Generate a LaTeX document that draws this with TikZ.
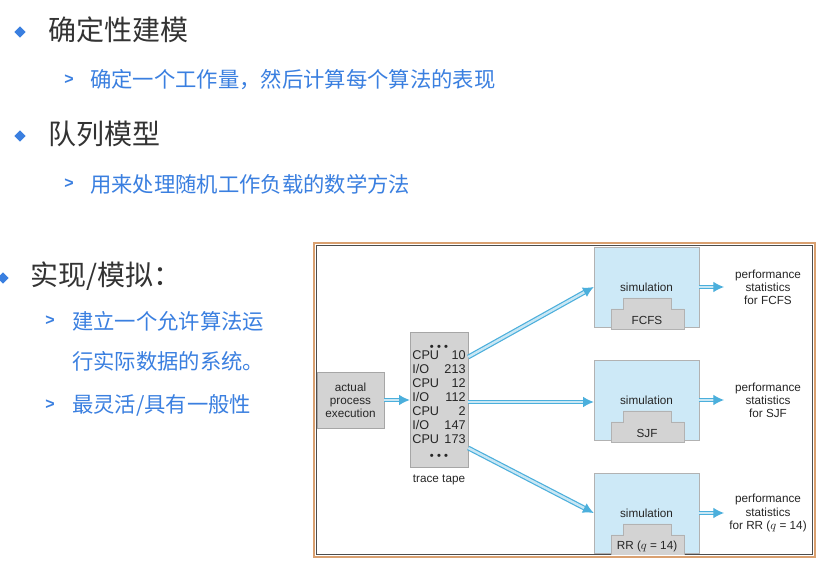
\documentclass[tikz,border=0pt]{standalone}
\usepackage{fontspec}
\setmainfont{Liberation Sans}
\newfontfamily\cjk{Noto Sans CJK SC}
\usetikzlibrary{arrows.meta,positioning}
\definecolor{slideblue}{HTML}{3A7FE0}
\definecolor{headgray}{HTML}{333333}
\definecolor{simblue}{HTML}{CDE9F7}
\definecolor{boxgray}{HTML}{D3D3D3}
\definecolor{arrowblue}{HTML}{4BAFDC}
\definecolor{framebrown}{HTML}{D9A070}
\tikzset{
  head/.style={anchor=west,text=headgray,font=\cjk\fontsize{21}{24}\selectfont,inner sep=0},
  sub/.style={anchor=west,text=slideblue,font=\cjk\fontsize{16}{19}\selectfont,inner sep=0},
  dia/.style={fill=slideblue,draw=none,minimum size=6pt,inner sep=0,rotate=45},
  tri/.style={anchor=west,text=slideblue,font=\bfseries\fontsize{12}{12}\selectfont,inner sep=0},
  graybox/.style={draw=gray!70,fill=boxgray,inner sep=0},
  simbox/.style={draw=gray!60,fill=simblue,minimum width=78.75pt,minimum height=60pt,inner sep=0},
  flow/.style={draw=arrowblue,double=arrowblue!30,double distance=1.8pt,line width=0.9pt,-{Latex[length=8pt,width=8pt]}},
  small/.style={font=\fontsize{8.8}{9.8}\selectfont,text=gray!30!black,align=center,inner sep=0}
}
\begin{document}
\begin{tikzpicture}[x=0.75pt,y=-0.75pt]
  \useasboundingbox (0,0) rectangle (819,566);
  \fill[white] (0,0) rectangle (819,566);

  % slide text
  \node[dia] (d1) at (20,32) {};
  \node[head] (h1) at (48,30) {确定性建模};
  \node[tri] (t1) at (64,80) {>};
  \node[sub] (s1) at (90,80) {确定一个工作量，然后计算每个算法的表现};
  \node[dia] (d2) at (20,136) {};
  \node[head] (h2) at (48,134) {队列模型};
  \node[tri] (t2) at (64,184) {>};
  \node[sub] (s2) at (90,184) {用来处理随机工作负载的数学方法};
  \node[dia] (d3) at (3,278) {};
  \node[head] (h3) at (30,276) {实现/模拟：};
  \node[tri] (t3) at (45,321) {>};
  \node[sub] (s3) at (72,321) {建立一个允许算法运};
  \node[sub] (s4) at (72,361) {行实际数据的系统。};
  \node[tri] (t4) at (45,405) {>};
  \node[sub] (s5) at (72,405) {最灵活/具有一般性};

  % frame
  \draw[framebrown,line width=2.2pt] (314,243) rectangle (815,557);
  \draw[gray!60!black,line width=0.4pt] (316.5,245.5) rectangle (812.5,554.5);

  % actual process and trace tape
  \node[graybox,small,minimum width=50pt,minimum height=42pt] (act) at (350.5,400) {actual\\process\\execution};
  \node[graybox,minimum width=43.5pt,minimum height=101pt] (tape) at (439,400) {};
  \node[small,font=\fontsize{9.5}{10.5}\selectfont] (tapetxt) at (tape.center) {%
    \begin{tabular}{@{}l@{\hspace{4pt}}r@{}}
    \multicolumn{2}{c}{\tiny$\bullet\bullet\bullet$}\\[-2pt]
    CPU & 10\\ I/O & 213\\ CPU & 12\\ I/O & 112\\ CPU & 2\\ I/O & 147\\ CPU & 173\\
    \multicolumn{2}{c}{\tiny$\bullet\bullet\bullet$}
    \end{tabular}};
  \node[small,below=5pt of tape] (tapelbl) {trace tape};

  % simulations
  \foreach \nm/\yy/\alg/\stat in {fcfs/287/FCFS/for FCFS,sjf/400/SJF/for SJF,rr/513/RR ($q$ = 14)/for RR ($q$ = 14)}{
    \begin{scope}
      \clip (316.5,245.5) rectangle (812.5,554.5);
      \node[simbox] (sim\nm) at (646.5,\yy) {};
      \fill[boxgray,draw=gray!60] (611,\yy+42) -- (611,\yy+22) -- (623,\yy+22) -- (623,\yy+11)
        -- (671,\yy+11) -- (671,\yy+22) -- (684,\yy+22) -- (684,\yy+42) -- cycle;
    \end{scope}
    \node[small] (lbl\nm) at (646.5,\yy) {simulation};
    \node[small] (alg\nm) at (647,\yy+33) {\alg};
    \node[small] (stat\nm) at (768,\yy) {performance\\statistics\\\stat};
    \draw[flow] (sim\nm.east |- lbl\nm) -- (724,\yy);
  }

  % connectors
  \draw[flow] (act) -- (tape);
  \draw[flow] (tape.east |- 0,357) -- (simfcfs.west |- lblfcfs);
  \draw[flow] (tape.east |- 0,402) -- (simsjf.west |- 0,402);
  \draw[flow] (tape.east |- 0,448) -- (simrr.west |- lblrr);
\end{tikzpicture}
\end{document}
